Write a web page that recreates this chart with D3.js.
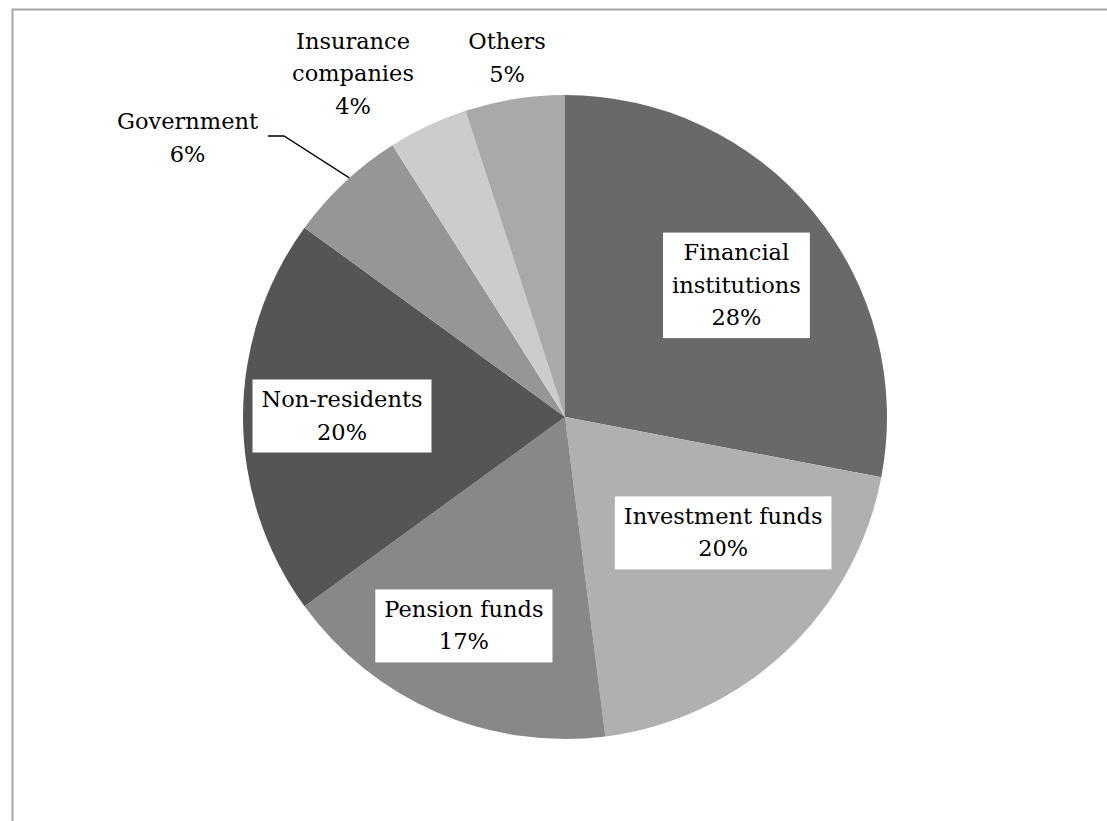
<!DOCTYPE html>
<html>
<head>
<meta charset="utf-8">
<script src="https://cdn.jsdelivr.net/npm/d3@7"></script>
<style>
  html, body { margin: 0; padding: 0; background: #fff; }
  svg { display: block; }
  text { font-family: "DejaVu Serif", "Liberation Serif", serif; font-size: 22.5px; fill: #000; }
</style>
</head>
<body>
<svg id="chart" width="1107" height="821"></svg>
<script>
// Holders of outstanding debt, share of total (%)
const categories = ["Financial institutions", "Investment funds", "Pension funds", "Non-residents", "Government", "Insurance companies", "Others"];
const shares = [28, 20, 17, 20, 6, 4, 5];
const labelLines = [
  ["Financial", "institutions"],
  ["Investment funds"],
  ["Pension funds"],
  ["Non-residents"],
  ["Government"],
  ["Insurance", "companies"],
  ["Others"]
];
const fills = ["#696969", "#b0b0b0", "#888888", "#555555", "#969696", "#cccccc", "#a9a9a9"];

const svg = d3.select("#chart");
const cx = 565, cy = 417, R = 322;

// chart frame
svg.append("rect")
  .attr("x", 12.5).attr("y", 9.5)
  .attr("width", 1200).attr("height", 1000)
  .attr("fill", "none").attr("stroke", "#a6a6a6").attr("stroke-width", 2);

const data = categories.map((c, i) => ({ name: c, value: shares[i], lines: labelLines[i], fill: fills[i] }));

const pie = d3.pie().value(d => d.value).sort(null);
const arcs = pie(data);
const arc = d3.arc().innerRadius(0).outerRadius(R);

const g = svg.append("g").attr("transform", `translate(${cx},${cy})`);

g.selectAll("path.slice")
  .data(arcs)
  .join("path")
  .attr("class", "slice")
  .attr("d", arc)
  .attr("fill", d => d.data.fill);

// label placement: inside labels sit on a ring, outside labels above the pie
const layout = {
  "Financial institutions": { r: 216, dx: 5, dy: 6, boxed: true },
  "Investment funds": { r: 196, dx: 24, dy: -27, boxed: true },
  "Pension funds": { r: 232, dx: -9, dy: -4, boxed: true },
  "Non-residents": { r: 223, dx: 0, dy: -1, boxed: true },
  "Government": { x: 187.5 - cx, y: 138 - cy, boxed: false },
  "Insurance companies": { x: 353 - cx, y: 74 - cy, boxed: false },
  "Others": { x: 507 - cx, y: 58 - cy, boxed: false }
};

const lineH = 32.5;

// leader line for the Government slice, ending on the slice's outer edge
const govArc = arcs[4];
const govMid = (govArc.startAngle + govArc.endAngle) / 2 + 0.02;
const edgePt = [Math.sin(govMid) * R, -Math.cos(govMid) * R];
g.append("path")
  .attr("d", d3.line()([[268 - cx, 136 - cy], [284 - cx, 136 - cy], edgePt]))
  .attr("fill", "none").attr("stroke", "#000").attr("stroke-width", 1.3);

arcs.forEach(a => {
  const L = layout[a.data.name];
  let x, y;
  if (L.r !== undefined) {
    const mid = (a.startAngle + a.endAngle) / 2;
    x = Math.sin(mid) * L.r + L.dx;
    y = -Math.cos(mid) * L.r + L.dy;
  } else {
    x = L.x; y = L.y;
  }
  const lines = a.data.lines.concat([a.data.value + "%"]);
  const n = lines.length;
  const lg = g.append("g").attr("transform", `translate(${x},${y})`);
  const firstBase = -(n * lineH) / 2 + lineH - 9;
  const txt = lg.append("text").attr("text-anchor", "middle");
  lines.forEach((s, i) => {
    txt.append("tspan").attr("x", 0).attr("y", firstBase + i * lineH).text(s);
  });
  if (L.boxed) {
    const bb = txt.node().getBBox();
    const padX = 9;
    const h = n * lineH + 8;
    lg.insert("rect", "text")
      .attr("x", bb.x - padX).attr("y", -h / 2)
      .attr("width", bb.width + 2 * padX).attr("height", h)
      .attr("fill", "#fff");
  }
});
</script>
</body>
</html>
